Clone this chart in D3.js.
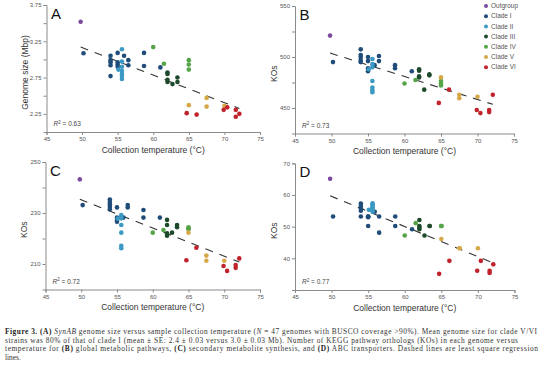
<!DOCTYPE html>
<html><head><meta charset="utf-8">
<script src="https://cdn.jsdelivr.net/npm/d3@7"></script>
<style>body{margin:0;background:#fff} svg{display:block}</style>
</head><body><svg id="c" width="554" height="366"></svg>
<script>
// ---------- data ----------
const clades = ["Outgroup","Clade I","Clade II","Clade III","Clade IV","Clade V","Clade VI"];
const cladeOf = [0, 1, 1,1,1,1,1, 1,1,1,1, 1, 1,1, 1,1, 1, 2,2,2,2,2,2,2,2, 4, 4, 4,4,4, 3,3,3,3, 3, 3,3, 5, 5,5, 5, 6, 6, 6, 6, 6,6, 6];
const temperature = [49.8, 50.2, 54.0,54.0,54.0,54.0,54.0, 55.0,55.0,55.0,55.0, 55.9, 56.5,56.5, 58.7,58.7, 61.0,
  55.1,55.6,55.6,55.6,55.6,55.6,55.6,55.6, 60.0, 61.5, 65.0,65.0,65.0, 62.0,62.0,62.0,62.0, 62.7, 63.4,63.4,
  65.0, 67.5,67.5, 70.0, 64.7, 66.1, 69.9, 70.4, 71.6,71.6, 72.1];
const genomeSize = [3.52, 3.085, 3.05,2.99,2.96,2.92,2.77, 3.09,2.96,2.93,2.90, 3.05, 2.99,2.92, 3.09,2.91, 2.89,
  2.86,3.14,2.97,2.90,2.84,2.80,2.77,2.73, 3.17, 2.94, 2.99,2.93,2.86, 2.82,2.80,2.72,2.69, 2.66, 2.75,2.69,
  2.37, 2.47,2.35, 2.36, 2.26, 2.24, 2.305, 2.34, 2.305,2.21, 2.25];
const koGlobal = [521, 495, 507.5,502,500,497,495, 500,496,489,486, 492, 501,496, 492,489, 486,
  488,498,493,490,476.5,470,467.5,465.5, 474, 477.5, 476.5,472,474, 488,486.6,481,480, 468, 483,482,
  480, 463,459.5, 461, 455, 468, 448, 445, 448,446, 463];
const koSecondary = [243.2, 233.1, 235.3,234.3,233.4,232.5,231.5, 232.2,228.2,227.3,226.6, 228.2, 233.1,232.2, 231.2,228.2, 228.2,
  227.8,229.2,228.5,227.9,225.3,222.3,217.1,216.2, 222.3, 223.3, 224.4,223.6,224.0, 227.3,225.3,222.0,221.1, 222.3, 225.3,224.4,
  222.3, 213.3,211.3, 211.3, 211.5, 216.4, 209.2, 207.3, 209.6,208.5, 212.2];
const koABC = [65.1, 53.2, 57.3,56.5,55.8,55.0,53.2, 53.2,53.2,50.2,53.0, 54.7, 53.2,48.1, 53.2,50.2, 49.2,
  55.3,57.4,56.8,56.3,55.3,56.0,57.0,54.7, 47.2, 51.1, 50.2,50.2,50.2, 52.1,50.2,49.7,49.2, 47.2, 50.2,50.2,
  46.1, 43.2,43.2, 43.2, 35.1, 39.2, 36.1, 39.2, 36.1,35.4, 38.1];
const r2Values = ["0.63","0.73","0.72","0.77"];
const xTicks = [45,50,55,60,65,70,75];
const yTicksA = [2.25,2.5,2.75,3,3.25,3.5,3.75], yLabA = [2.25,2.75,3.25,3.75];
const yTicksB = [450,475,500,525,550], yLabB = [450,500,550];
const yTicksC = [210,220,230,240,250], yLabC = [210,230,250];
const yTicksD = [40,50,60,70], yLabD = [40,50,60,70];
const captionLines = [
  [["Figure 3. ","b"],["(A) ","b"],["SynAB","i"],[" genome size versus sample collection temperature ("],["N","i"],[" = 47 genomes with BUSCO coverage >90%). Mean genome size for clade V/VI"]],
  [["strains was 80% of that of clade I (mean ± SE: 2.4 ± 0.03 versus 3.0 ± 0.03 Mb). Number of KEGG pathway orthologs (KOs) in each genome versus"]],
  [["temperature for "],["(B)","b"],[" global metabolic pathways, "],["(C)","b"],[" secondary metabolite synthesis, and "],["(D)","b"],[" ABC transporters. Dashed lines are least square regression"]],
  [["lines."]]
];

// ---------- style ----------
const colors = ["#7b4a9c","#1f4c79","#3b99c3","#1d4a2b","#55a548","#d6a847","#c0232b"];
const FONT = "Liberation Sans, Arial, sans-serif";
const svg = d3.select("#c");

const panels = [
  {letter:"A", vals:genomeSize, xr:[46.5,260], yr:[132,5], yd:[2,3.75], ticks:yTicksA, labs:yLabA, fmt:d3.format(".2f"), ylab:"Genome size (Mbp)"},
  {letter:"B", vals:koGlobal, xr:[295,514], yr:[133.5,6], yd:[425,550], ticks:yTicksB, labs:yLabB, fmt:d3.format("d"), ylab:"KOs"},
  {letter:"C", vals:koSecondary, xr:[45.5,260], yr:[289.5,162], yd:[200,250], ticks:yTicksC, labs:yLabC, fmt:d3.format("d"), ylab:"KOs"},
  {letter:"D", vals:koABC, xr:[295,514.5], yr:[290,163.3], yd:[30,70], ticks:yTicksD, labs:yLabD, fmt:d3.format("d"), ylab:"KOs"}
];

panels.forEach((p,pi)=>{
  const x = d3.scaleLinear().domain([45,75]).range(p.xr);
  const y = d3.scaleLinear().domain(p.yd).range(p.yr);
  const g = svg.append("g");
  // axes
  const xa = g.append("g").attr("transform",`translate(0,${p.yr[0]})`)
    .call(d3.axisBottom(x).tickValues(xTicks).tickSize(3).tickPadding(2).tickFormat(d3.format("d")));
  const ya = g.append("g").attr("transform",`translate(${p.xr[0]},0)`)
    .call(d3.axisLeft(y).tickValues(p.ticks).tickSize(3).tickPadding(2)
      .tickFormat(d=>p.labs.some(v=>Math.abs(v-d)<1e-9)?p.fmt(d):""));
  [xa,ya].forEach(a=>{
    a.select(".domain").attr("stroke","#8a8a8a").attr("stroke-width",1);
    a.selectAll(".tick line").attr("stroke","#8a8a8a");
    a.selectAll("text").attr("fill","#555").attr("font-size",6).attr("font-family",FONT);
  });
  // regression (genomes only)
  const idx = d3.range(temperature.length).filter(i=>cladeOf[i]!==0);
  const mx = d3.mean(idx,i=>temperature[i]), my = d3.mean(idx,i=>p.vals[i]);
  const b = d3.sum(idx,i=>(temperature[i]-mx)*(p.vals[i]-my))/d3.sum(idx,i=>(temperature[i]-mx)**2);
  const a0 = my - b*mx;
  const ext = d3.extent(temperature);
  g.append("line").attr("x1",x(ext[0])).attr("x2",x(ext[1]))
    .attr("y1",y(a0+b*ext[0])).attr("y2",y(a0+b*ext[1]))
    .attr("stroke","#333").attr("stroke-width",1.1).attr("stroke-dasharray","8,7");
  // points
  g.selectAll("circle.pt").data(d3.range(temperature.length)).join("circle")
    .attr("class","pt").attr("cx",i=>x(temperature[i])).attr("cy",i=>y(p.vals[i])).attr("r",2.3)
    .attr("fill",i=>colors[cladeOf[i]]);
  // labels
  g.append("text").attr("x",(p.xr[0]+p.xr[1])/2).attr("y",p.yr[0]+20.5).attr("text-anchor","middle")
    .attr("font-family",FONT).attr("font-size",8.5).attr("fill","#333").text("Collection temperature (°C)");
  g.append("text").attr("transform",`translate(${p.xr[0]-21},${(p.yr[0]+p.yr[1])/2+4}) rotate(-90)`)
    .attr("text-anchor","middle").attr("dy","0.35em")
    .attr("font-family",FONT).attr("font-size",8.5).attr("fill","#333").text(p.ylab);
  g.append("text").attr("x",p.xr[0]+4.5).attr("y",p.yr[1]+13.5)
    .attr("font-family",FONT).attr("font-size",15).attr("fill","#111").text(p.letter);
  const rt = g.append("text").attr("x",p.xr[0]+7).attr("y",p.yr[0]-6)
    .attr("font-family",FONT).attr("font-size",6.5).attr("fill","#444");
  rt.append("tspan").attr("font-style","italic").text("R");
  rt.append("tspan").attr("font-size",4.5).attr("dy",-2.5).text("2");
  rt.append("tspan").attr("dy",2.5).text(" = "+r2Values[pi]);
});

// legend
const lg = svg.append("g");
clades.forEach((c,i)=>{
  lg.append("circle").attr("cx",486).attr("cy",6+i*10.2).attr("r",2).attr("fill",colors[i]);
  lg.append("text").attr("x",491).attr("y",6+i*10.2).attr("dy","0.35em")
    .attr("font-family",FONT).attr("font-size",6.5).attr("fill","#555").text(c);
});

// caption
const widths = [532, 513, 533, null];
captionLines.forEach((line,li)=>{
  const t = svg.append("text").attr("x",5).attr("y",334+li*8.6)
    .attr("font-family","Liberation Serif, Times New Roman, serif").attr("font-size",7.4).attr("fill","#333");
  if (widths[li]) t.attr("textLength",widths[li]).attr("lengthAdjust","spacing");
  line.forEach(([s,st])=>{
    const ts = t.append("tspan").text(s);
    if (st==="b") ts.attr("font-weight","bold").attr("fill","#222");
    if (st==="i") ts.attr("font-style","italic");
  });
});
</script></body></html>
